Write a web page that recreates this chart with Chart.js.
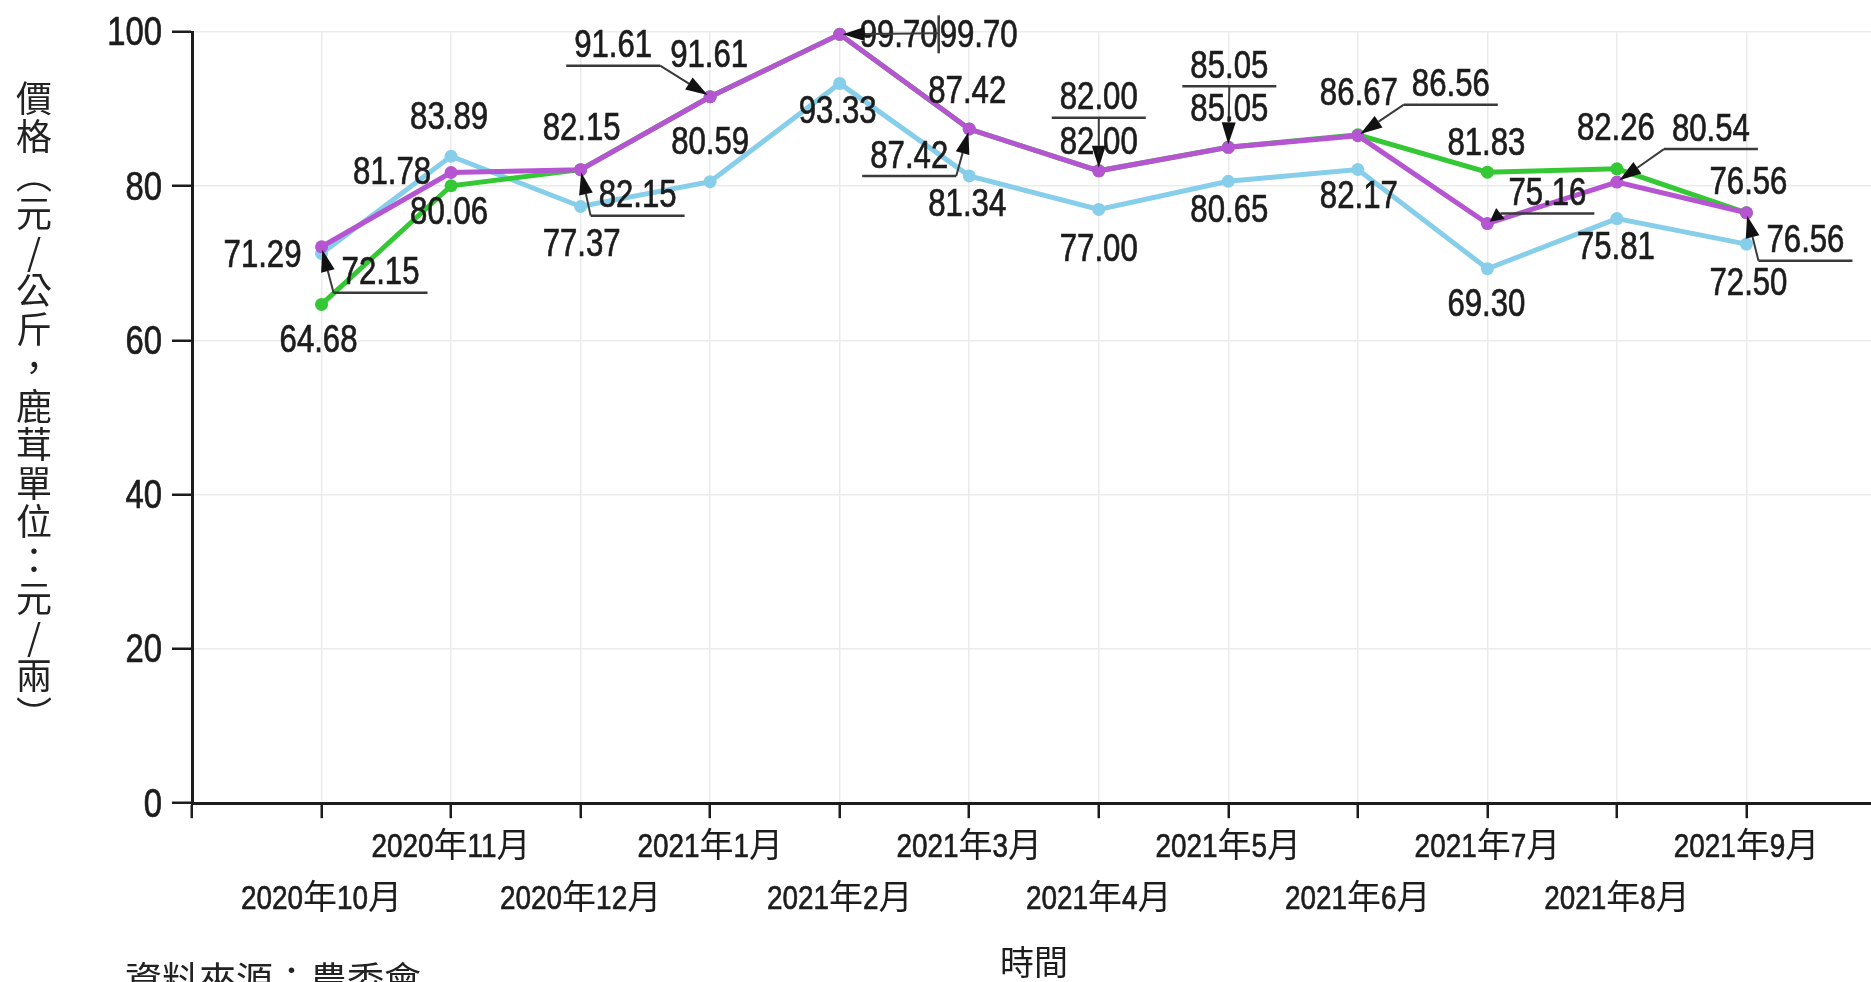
<!DOCTYPE html>
<html>
<head>
<meta charset="utf-8">
<script src="https://cdn.jsdelivr.net/npm/chart.js@4.4.1/dist/chart.umd.min.js"></script>
<style>
  html, body { margin: 0; padding: 0; background: #fff; overflow: hidden; }
  #wrap { position: relative; width: 1871px; height: 982px; overflow: hidden; }
  #box { position: absolute; left: 0; top: 0; width: 1876px; height: 982px; }
  #yTitle {
    position: absolute; left: 15px; top: 80px;
    writing-mode: vertical-rl; text-orientation: mixed;
    font: 36px/37px "Noto Sans CJK TC"; letter-spacing: 2.5px; color: #222;
  }
  #yTitle span { text-orientation: upright; }
  #source {
    position: absolute; left: 125px; top: 958px; white-space: nowrap;
    font: 37px/40px "Noto Sans CJK TC"; color: #222;
  }
</style>
</head>
<body>
<div id="wrap">
  <div id="box"><canvas id="priceChart"></canvas></div>
  <div id="yTitle">價格（元<span>/</span>公斤，鹿茸單位：元<span>/</span>兩）</div>
  <div id="source">資料來源：農委會</div>
</div>
<script>
const months = ['2020年10月', '2020年11月', '2020年12月', '2021年1月', '2021年2月', '2021年3月',
                '2021年4月', '2021年5月', '2021年6月', '2021年7月', '2021年8月', '2021年9月'];
const blueValues   = [71.29, 83.89, 77.37, 80.59, 93.33, 81.34, 77.00, 80.65, 82.17, 69.30, 75.81, 72.50];
const greenValues  = [64.68, 80.06, 82.15, 91.61, 99.70, 87.42, 82.00, 85.05, 86.67, 81.83, 82.26, 76.56];
const purpleValues = [72.15, 81.78, 82.15, 91.61, 99.70, 87.42, 82.00, 85.05, 86.56, 75.16, 80.54, 76.56];
const yTicks = [0, 20, 40, 60, 80, 100];

const LATIN = '"Liberation Sans", Arial, sans-serif';
const CJK = '"Noto Sans CJK TC", sans-serif';
const SQUEEZE = 0.82;   // Liberation Sans squeezed to look like Arial Narrow
const TEXT = '#1c1c1c';

// where each value label sits, relative to its point (px)
const blueLabelPos = [[-59, 0], [-2, -41], [1, 36], [0, -41], [-2, 26], [-2, 26],
                      [0, 38], [1, 27], [1, 25], [-1, 34], [-1, 27], [2, 37]];
const greenLabelPos = [[-3, 34], [-2, 25], [1, -43], [-1, -43], [139, -1], [-2, -40],
                       [0, -30], [1, -40], [1, -43], [-1, -31], [-1, -42], [2, -32]];
// callouts: text offset + where the leader leaves the underline
const purpleLabelPos = [
  { call: 'left', dx: 59, dy: 24 },
  { dx: -59, dy: -2 },
  { call: 'left', dx: 57, dy: 24 },
  { call: 'right', dx: -97, dy: -53 },
  { call: 'bar', dx: 59, dy: -1 },
  { call: 'right', dx: -60, dy: 25 },
  { call: 'mid', dx: 0, dy: -75 },
  { call: 'mid', dx: 1, dy: -83 },
  { call: 'left', dx: 93, dy: -53 },
  { call: 'left', dx: 60, dy: -32 },
  { call: 'left', dx: 94, dy: -55 },
  { call: 'left', dx: 59, dy: 26 },
];

// draws latin runs squeezed, CJK runs normal; cy = vertical centre of digits
function drawText(ctx, text, x, cy, size, align) {
  const runs = (text.match(/[\x00-\x7f]+|[^\x00-\x7f]+/g) || []).map(s => {
    const latin = /^[\x00-\x7f]/.test(s);
    ctx.font = size + 'px ' + (latin ? LATIN : CJK);
    return { s, latin, w: ctx.measureText(s).width * (latin ? SQUEEZE : 1) };
  });
  const total = runs.reduce((a, r) => a + r.w, 0);
  let cur = align === 'right' ? x - total : align === 'left' ? x : x - total / 2;
  const base = cy + size * 0.358;
  ctx.textAlign = 'left';
  ctx.textBaseline = 'alphabetic';
  ctx.fillStyle = TEXT;
  ctx.strokeStyle = TEXT;
  ctx.lineWidth = 0.7;
  runs.forEach(r => {
    ctx.font = size + 'px ' + (r.latin ? LATIN : CJK);
    ctx.save();
    ctx.translate(cur, base);
    if (r.latin) ctx.scale(SQUEEZE, 1);
    ctx.fillText(r.s, 0, 0);
    if (r.latin) ctx.strokeText(r.s, 0, 0);
    ctx.restore();
    cur += r.w;
  });
  return total;
}

function drawArrow(ctx, x0, y0, x1, y1) {
  const ang = Math.atan2(y1 - y0, x1 - x0);
  const len = Math.min(22, Math.hypot(x1 - x0, y1 - y0));
  const bx = x1 - Math.cos(ang) * len, by = y1 - Math.sin(ang) * len;
  ctx.beginPath();
  ctx.moveTo(x0, y0);
  ctx.lineTo(bx, by);
  ctx.stroke();
  ctx.beginPath();
  ctx.moveTo(x1, y1);
  ctx.lineTo(bx + Math.sin(ang) * 7, by - Math.cos(ang) * 7);
  ctx.lineTo(bx - Math.sin(ang) * 7, by + Math.cos(ang) * 7);
  ctx.closePath();
  ctx.fill();
}

const valueLabels = {
  id: 'valueLabels',
  afterDatasetsDraw(chart) {
    const ctx = chart.ctx;
    ctx.save();
    chart.data.datasets.forEach((ds, di) => {
      const meta = chart.getDatasetMeta(di);
      meta.data.forEach((pt, i) => {
        const text = ds.data[i].y.toFixed(2);
        const lay = ds.labelPos[i];
        if (Array.isArray(lay)) {
          drawText(ctx, text, pt.x + lay[0], pt.y + lay[1], 38);
          return;
        }
        const cx = pt.x + lay.dx, cy = pt.y + lay.dy;
        const w = drawText(ctx, text, cx, cy, 38);
        if (!lay.call) return;
        ctx.strokeStyle = '#3a3a3a';
        ctx.fillStyle = '#111';
        ctx.lineWidth = 2.5;
        let ax, ay;
        if (lay.call === 'bar') {
          ax = cx + w / 2 + 1; ay = cy;
          ctx.beginPath();
          ctx.moveTo(ax, cy - 18);
          ctx.lineTo(ax, cy + 20);
          ctx.stroke();
        } else {
          const uy = cy + 22, u0 = cx - w / 2 - 8, u1 = cx + w / 2 + 8;
          ctx.beginPath();
          ctx.moveTo(u0, uy);
          ctx.lineTo(u1, uy);
          ctx.stroke();
          ay = uy;
          ax = lay.call === 'left' ? u0 : lay.call === 'right' ? u1 : cx;
        }
        const d = Math.hypot(pt.x - ax, pt.y - ay);
        ctx.lineWidth = 2;
        drawArrow(ctx, ax, ay, pt.x + (ax - pt.x) / d * 3, pt.y + (ay - pt.y) / d * 3);
      });
    });
    ctx.restore();
  }
};

// tick labels in the narrow face, staggered on two rows along x
const tickLabels = {
  id: 'tickLabels',
  afterDraw(chart) {
    const ctx = chart.ctx;
    const { x, y } = chart.scales;
    ctx.save();
    yTicks.forEach(v => {
      drawText(ctx, String(v), chart.chartArea.left - 30, y.getPixelForValue(v) - 1, 40, 'right');
    });
    months.forEach((m, i) => {
      const row = i % 2 === 0 ? 1 : 0;
      drawText(ctx, m, x.getPixelForValue(i), chart.chartArea.bottom + 42 + row * 52, 34);
    });
    ctx.restore();
  }
};

function series(label, values, color, labelPos) {
  return {
    label,
    data: values.map((v, i) => ({ x: i, y: v })),
    borderColor: color,
    backgroundColor: color,
    borderWidth: 5,
    pointRadius: 6.5,
    pointBorderWidth: 0,
    pointBackgroundColor: color,
    tension: 0,
    clip: false,
    labelPos,
  };
}

const ctx = document.getElementById('priceChart').getContext('2d');
new Chart(ctx, {
  type: 'line',
  data: {
    datasets: [
      series('紫線', purpleValues, '#b655d2', purpleLabelPos),
      series('綠線', greenValues, '#34c934', greenLabelPos),
      series('藍線', blueValues, '#87ceeb', blueLabelPos),
    ],
  },
  options: {
    responsive: true,
    maintainAspectRatio: false,
    animation: false,
    layout: { autoPadding: false, padding: { top: 32, left: 172, right: 0, bottom: 0 } },
    plugins: {
      legend: { display: false },
      tooltip: { enabled: false },
    },
    scales: {
      x: {
        type: 'linear',
        min: -1,
        max: months.length,
        afterBuildTicks: scale => {
          scale.ticks = [-1, ...months.map((m, i) => i), months.length].map(v => ({ value: v }));
        },
        grid: {
          color: c => (c.tick && c.tick.value === months.length ? 'rgba(0,0,0,0)' : '#ebebeb'),
          lineWidth: 1.5,
          tickColor: c => (c.tick && c.tick.value === months.length ? 'rgba(0,0,0,0)' : TEXT),
          tickWidth: 2.5,
          tickLength: 15,
        },
        border: { color: TEXT, width: 3 },
        ticks: { display: false },
        title: {
          display: true,
          text: '時間',
          color: TEXT,
          font: { family: CJK, size: 34, lineHeight: 1.2 },
          padding: { top: 123, bottom: 0 },
        },
      },
      y: {
        min: yTicks[0],
        max: yTicks[yTicks.length - 1],
        afterBuildTicks: scale => { scale.ticks = yTicks.map(v => ({ value: v })); },
        grid: { color: '#ebebeb', lineWidth: 1.5, tickColor: TEXT, tickWidth: 2.5, tickLength: 20 },
        border: { color: TEXT, width: 3 },
        ticks: { display: false },
      },
    },
  },
  plugins: [valueLabels, tickLabels],
});
</script>
</body>
</html>
